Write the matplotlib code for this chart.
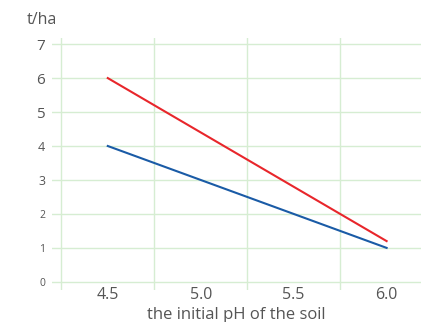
import matplotlib
matplotlib.use("Agg")
import matplotlib.pyplot as plt

ph_levels = ["4.5", "5.0", "5.5", "6.0"]
red_yield = [6.0, 1.2]
blue_yield = [4.0, 1.0]
y_ticks = [0, 1, 2, 3, 4, 5, 6, 7]
y_tick_sizes = [7.5, 7.5, 7.5, 9, 9, 11, 11, 11]

plt.rcParams['font.family'] = ['Open Sans', 'DejaVu Sans']
text_color = "#555555"
grid_color = "#d6edd2"

fig = plt.figure(figsize=(4.21, 3.22), dpi=100)
ax = fig.add_axes([52 / 421, 32 / 322, 1 - 52 / 421, 252 / 322])

x = list(range(len(ph_levels)))
ax.plot([x[0], x[-1]], red_yield, color="#e8262b", lw=1.5, zorder=3)
ax.plot([x[0], x[-1]], blue_yield, color="#1a5ba6", lw=1.5, zorder=3)

ax.set_xlim(-0.6, 3.37)
ax.set_ylim(-0.24, 7.18)

for yv in y_ticks:
    ax.axhline(yv, color=grid_color, lw=1, zorder=1)
for xv in [-0.5, 0.5, 1.5, 2.5, 3.5]:
    ax.axvline(xv, color=grid_color, lw=1, zorder=1)

ax.set_xticks(x)
ax.set_xticklabels(ph_levels, fontsize=11.5, color=text_color)
ax.set_yticks(y_ticks)
ax.set_yticklabels([str(v) for v in y_ticks], color=text_color)
for lbl, s in zip(ax.get_yticklabels(), y_tick_sizes):
    lbl.set_fontsize(s)
ax.tick_params(axis='y', length=0, pad=5)
ax.tick_params(axis='x', length=0, pad=-2.5)

for sp in ax.spines.values():
    sp.set_visible(False)

ax.set_xlabel("the initial pH of the soil", fontsize=12, color=text_color, labelpad=3)
fig.text(27 / 421, 1 - 20 / 322, "t/ha", fontsize=11.5, color=text_color, va="center", ha="left")

fig.savefig("out.png", dpi=100)
